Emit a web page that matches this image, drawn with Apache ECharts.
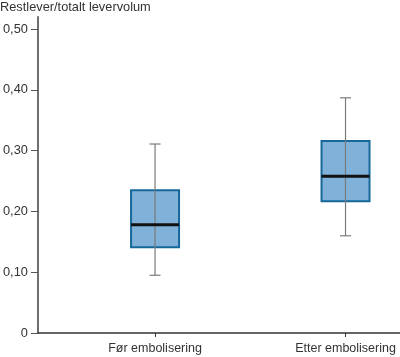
<!DOCTYPE html>
<html><head><meta charset="utf-8">
<script src="https://cdn.jsdelivr.net/npm/echarts@6/dist/echarts.min.js"></script>
<style>html,body{margin:0;padding:0;background:#fff}#c{width:400px;height:357px}</style>
</head><body><div id="c"></div>
<script>
var categories = ['Før embolisering', 'Etter embolisering'];
var minVals = [0.095, 0.160];
var q1Vals = [0.141, 0.217];
var medianVals = [0.178, 0.258];
var q3Vals = [0.235, 0.316];
var maxVals = [0.311, 0.387];
var yTicks = [0, 0.1, 0.2, 0.3, 0.4, 0.5];

var data = categories.map(function (c, i) {
  return [i, minVals[i], q1Vals[i], medianVals[i], q3Vals[i], maxVals[i]];
});

var chart = echarts.init(document.getElementById('c'), null, {renderer: 'canvas'});
var font = 'Liberation Sans, Arial, sans-serif';
chart.setOption({
  animation: false,
  title: {text: 'Restlever/totalt levervolum', left: -5, top: -4,
    textStyle: {fontFamily: font, fontSize: 12.8, fontWeight: 'normal', color: '#333'}},
  grid: {left: 35, right: 0, top: 17, bottom: 24},
  xAxis: {
    type: 'value', min: -0.615, max: 1.286,
    axisLine: {onZero: false, lineStyle: {color: '#333', width: 1.5}},
    axisTick: {customValues: [0, 1], length: 4, lineStyle: {color: '#333'}},
    axisLabel: {customValues: [0, 1], margin: 9, fontFamily: font, fontSize: 12.5, color: '#333',
      formatter: function (v) { return categories[Math.round(v)]; }},
    splitLine: {show: false}
  },
  yAxis: {
    type: 'value', min: 0, max: 0.52,
    axisLine: {show: true, onZero: false, lineStyle: {color: '#6e6e6e', width: 2}},
    axisTick: {show: true, customValues: yTicks, length: 7, lineStyle: {color: '#555'}},
    axisLabel: {customValues: yTicks, margin: 10, fontFamily: font, fontSize: 12.8, color: '#333',
      formatter: function (v) { return v === 0 ? '0' : v.toFixed(2).replace('.', ','); }},
    splitLine: {show: false}
  },
  series: [{
    type: 'custom',
    data: data,
    encode: {x: 0, y: [1, 2, 3, 4, 5]},
    renderItem: function (params, api) {
      var x = api.value(0);
      var pMin = api.coord([x, api.value(1)]);
      var pQ1 = api.coord([x, api.value(2)]);
      var pMed = api.coord([x, api.value(3)]);
      var pQ3 = api.coord([x, api.value(4)]);
      var pMax = api.coord([x, api.value(5)]);
      var cx = pMin[0];
      var hw = 24, cap = 5.5;
      return {
        type: 'group',
        children: [
          {type: 'rect', shape: {x: cx - hw, y: pQ3[1], width: hw * 2, height: pQ1[1] - pQ3[1]},
            style: {fill: '#7fb1d9', stroke: '#17689a', lineWidth: 2}},
          {type: 'line', shape: {x1: cx, y1: pMax[1], x2: cx, y2: pMin[1]},
            style: {stroke: '#7a7a7a', lineWidth: 1.2}},
          {type: 'line', shape: {x1: cx - cap, y1: pMax[1], x2: cx + cap, y2: pMax[1]},
            style: {stroke: '#7a7a7a', lineWidth: 1.2}},
          {type: 'line', shape: {x1: cx - cap, y1: pMin[1], x2: cx + cap, y2: pMin[1]},
            style: {stroke: '#7a7a7a', lineWidth: 1.2}},
          {type: 'line', shape: {x1: cx - hw, y1: pMed[1], x2: cx + hw, y2: pMed[1]},
            style: {stroke: '#111', lineWidth: 3}}
        ]
      };
    }
  }]
});
</script></body></html>
